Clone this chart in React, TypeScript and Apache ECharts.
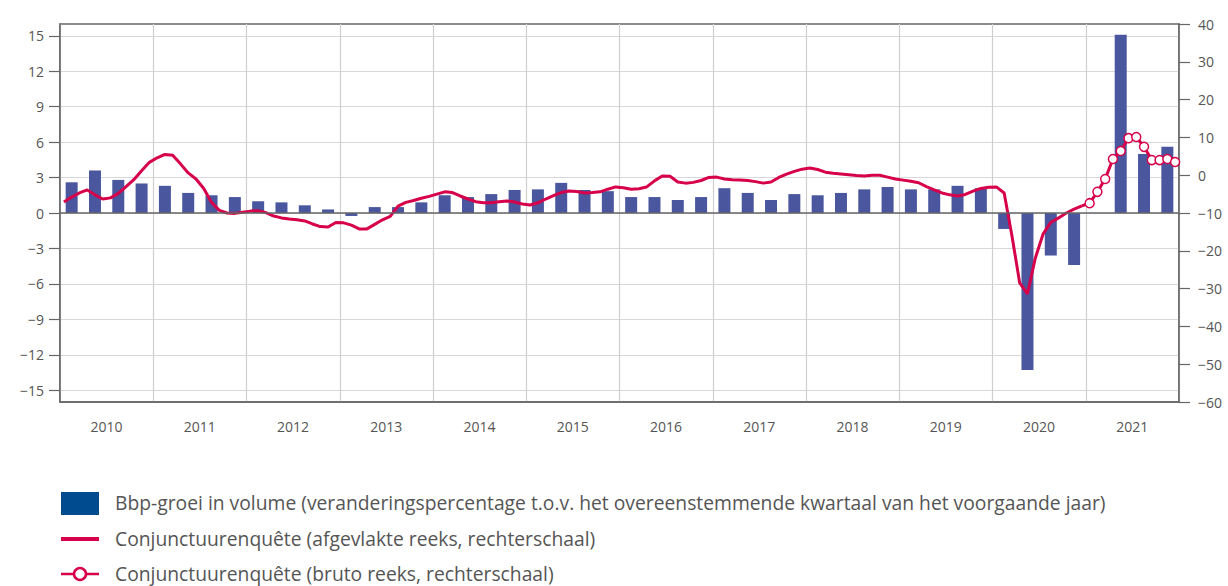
import React, { useEffect, useRef } from "react";
import * as echarts from "echarts";

const years = ["2010", "2011", "2012", "2013", "2014", "2015", "2016", "2017", "2018", "2019", "2020", "2021"];
const leftTicks = [-15, -12, -9, -6, -3, 0, 3, 6, 9, 12, 15];

// Quarterly GDP growth (y/y %), 2010Q1 - 2021Q4
const gdpGrowth = [
  2.6, 3.6, 2.8, 2.5,
  2.3, 1.7, 1.5, 1.35,
  1.0, 0.9, 0.65, 0.3,
  -0.25, 0.5, 0.5, 0.9,
  1.5, 1.35, 1.6, 1.95,
  2.0, 2.55, 1.95, 1.85,
  1.35, 1.35, 1.1, 1.35,
  2.1, 1.7, 1.1, 1.6,
  1.5, 1.7, 2.0, 2.2,
  2.0, 2.0, 2.3, 2.1,
  -1.35, -13.3, -3.6, -4.4,
  0.0, 15.1, 5.0, 5.6,
];

// Business survey, smoothed series (monthly), Jan 2010 - Dec 2020
const surveySmoothed = [
  -7.1, -5.8, -4.7, -3.9, -5.2, -6.3, -6.0, -4.8, -3.0, -1.2, 1.2, 3.4,
  4.6, 5.5, 5.3, 3.0, 0.6, -1.0, -3.5, -7.2, -9.3, -10.0, -10.1, -9.8,
  -9.5, -9.4, -9.9, -10.8, -11.3, -11.6, -11.8, -12.1, -12.9, -13.6, -13.7, -12.5,
  -12.6, -13.2, -14.2, -14.2, -13.0, -11.8, -10.9, -8.2, -7.2, -6.7, -6.1, -5.6,
  -5.0, -4.4, -4.6, -5.5, -6.3, -7.0, -7.3, -7.3, -7.0, -6.8, -7.1, -7.6,
  -7.9, -7.3, -6.3, -5.4, -4.6, -4.2, -4.3, -4.7, -4.6, -4.4, -3.7, -3.1,
  -3.3, -3.7, -3.6, -3.1, -1.5, -0.2, -0.3, -1.8, -2.1, -1.9, -1.4, -0.6,
  -0.5, -1.0, -1.2, -1.3, -1.4, -1.7, -2.1, -1.8, -0.6, 0.3, 1.0, 1.6,
  1.9, 1.5, 0.8, 0.5, 0.3, 0.1, -0.1, -0.2, 0.0, 0.0, -0.5, -1.0,
  -1.3, -1.6, -2.0, -3.0, -3.9, -4.7, -5.2, -5.5, -5.1, -4.2, -3.5, -3.2,
  -3.1, -4.7, -16.0, -28.5, -31.4, -22.0, -15.6, -12.5, -11.3, -10.0, -9.0, -8.1,
];

// Business survey, raw series (monthly), Jan 2021 - Dec 2021
const surveyRaw = [-7.4, -4.4, -1.0, 4.3, 6.4, 9.8, 10.1, 7.5, 4.0, 4.0, 4.3, 3.5];

const legendLabels = [
  "Bbp-groei in volume (veranderingspercentage t.o.v. het overeenstemmende kwartaal van het voorgaande jaar)",
  "Conjunctuurenquête (afgevlakte reeks, rechterschaal)",
  "Conjunctuurenquête (bruto reeks, rechterschaal)",
];

const RED = "#d6004b";
const BAR = "#4a579e";
const TXT = "#555555";
const FONT = "'Open Sans', 'Noto Sans', sans-serif";

function minus(v: number) {
  return v < 0 ? "\u2212" + Math.abs(v) : String(v);
}

export default function App() {
  const ref = useRef<HTMLDivElement>(null);
  useEffect(() => {
    if (!ref.current) return;
    const chart = echarts.init(ref.current, null, { renderer: "svg" });
    const months: string[] = [];
    years.forEach((y) => {
      for (let m = 1; m <= 12; m++) months.push(y + "-" + m);
    });
    const barData: any[] = months.map(() => "-");
    gdpGrowth.forEach((v, q) => {
      barData[q * 3 + 1] = v;
    });
    const smoothData: any[] = months.map((_, i) => (i < surveySmoothed.length ? surveySmoothed[i] : "-"));
    const rawData: any[] = months.map(() => "-");
    const start = surveySmoothed.length;
    rawData[start - 1] = { value: surveySmoothed[start - 1], symbol: "none" };
    surveyRaw.forEach((v, i) => {
      rawData[start + i] = v;
    });

    const legendY = [502, 538, 573];
    const graphic: any[] = [
      { type: "rect", shape: { x: 61, y: 492, width: 38, height: 23 }, style: { fill: "#004a8f" } },
      { type: "line", shape: { x1: 61, y1: 539, x2: 99, y2: 539 }, style: { stroke: RED, lineWidth: 4 } },
      { type: "line", shape: { x1: 61, y1: 574, x2: 99, y2: 574 }, style: { stroke: RED, lineWidth: 2.5 } },
      { type: "circle", shape: { cx: 80, cy: 574, r: 6 }, style: { fill: "#fff", stroke: RED, lineWidth: 2.5 } },
    ];
    legendLabels.forEach((t, i) => {
      graphic.push({
        type: "text",
        x: 115,
        y: legendY[i],
        style: { text: t, fill: TXT, font: "19.3px " + FONT, textVerticalAlign: "middle" },
      });
    });

    chart.setOption({
      animation: false,
      grid: { left: 60, right: 49, top: 24, bottom: 184, show: true, borderColor: "#666", borderWidth: 1.5, backgroundColor: "transparent" },
      xAxis: [
        { type: "category", data: months, show: false, boundaryGap: true, axisLine: { onZero: false } },
        {
          type: "category",
          data: years,
          position: "bottom",
          boundaryGap: true,
          axisLine: { show: true, onZero: false, lineStyle: { color: "#666", width: 1.5 } },
          axisTick: { show: false },
          axisLabel: { color: TXT, fontSize: 14, fontFamily: FONT, margin: 17 },
          splitLine: { show: true, lineStyle: { color: "#cfcfcf", width: 1.2 } },
        },
      ],
      yAxis: [
        {
          type: "value",
          min: -16,
          max: 16,
          position: "left",
          axisLine: { show: true, lineStyle: { color: "#666", width: 1.5 } },
          axisTick: { show: true, length: 11, customValues: leftTicks, lineStyle: { color: "#666", width: 1.2 } },
          axisLabel: { color: TXT, fontSize: 14, fontFamily: FONT, margin: 16, customValues: leftTicks, formatter: (v: number) => minus(v) },
          splitLine: { show: true, lineStyle: { color: "#d8d8d8", width: 1.2 } },
        },
        {
          type: "value",
          min: -60,
          max: 40,
          interval: 10,
          position: "right",
          axisLine: { show: true, lineStyle: { color: "#666", width: 1.5 } },
          axisTick: { show: true, length: 11, lineStyle: { color: "#666", width: 1.2 } },
          axisLabel: { color: TXT, fontSize: 14, fontFamily: FONT, margin: 19, formatter: (v: number) => minus(v) },
          splitLine: { show: false },
        },
      ],
      series: [
        {
          type: "bar",
          xAxisIndex: 0,
          yAxisIndex: 0,
          data: barData,
          barWidth: 12,
          itemStyle: { color: BAR },
          markLine: {
            silent: true,
            symbol: "none",
            label: { show: false },
            lineStyle: { color: "#666", width: 1.5, type: "solid" },
            data: [{ yAxis: 0 }],
          },
        },
        {
          type: "line",
          xAxisIndex: 0,
          yAxisIndex: 1,
          data: smoothData,
          symbol: "none",
          lineStyle: { color: RED, width: 3 },
          z: 3,
        },
        {
          type: "line",
          xAxisIndex: 0,
          yAxisIndex: 1,
          data: rawData,
          symbol: "circle",
          symbolSize: 9,
          showAllSymbol: true,
          lineStyle: { color: RED, width: 3 },
          itemStyle: { color: "#fff", borderColor: RED, borderWidth: 1.5 },
          z: 4,
        },
      ],
      graphic,
    });
    return () => chart.dispose();
  }, []);
  return <div ref={ref} style={{ width: 1228, height: 586, position: "absolute", left: 0, top: 0 }} />;
}
